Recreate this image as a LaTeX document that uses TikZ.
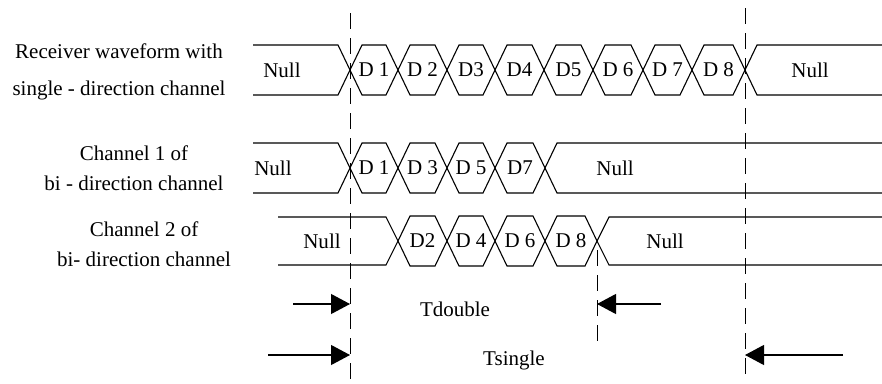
\documentclass[tikz,border=0pt]{standalone}
\usepackage{fontspec}
\setmainfont{Liberation Serif}
\usetikzlibrary{arrows.meta}
\tikzset{
  wave/.style={line width=1.1pt, line join=miter},
  lbl/.style={font=\fontsize{21}{25}\selectfont, inner sep=0pt},
  side/.style={font=\fontsize{21}{30}\selectfont, align=center, inner sep=0pt},
  guide/.style={line width=1pt, dash pattern=on 16pt off 9pt},
  span/.style={-{Triangle[length=19pt,width=20pt]}, line width=1.1pt},
}
% one row of data cells: mid line, row name, list of from/to/text
\newcommand{\datarow}[3]{%
  \foreach \a/\b/\t [count=\i] in {#3} {
    \draw[wave] (\a,#1) -- (\a+12,#1-25) -- (\b-12,#1-25) -- (\b,#1)
      -- (\b-12,#1+25) -- (\a+12,#1+25) -- cycle;
    \node[lbl] (#2d\i) at ({(\a+\b)/2},#1) {\t};
  }}

\begin{document}
\begin{tikzpicture}[x=1pt, y=-1pt]
  \useasboundingbox (0,0) rectangle (882,383);

  % row labels
  \node[side] (sgl) at (119,72) {Receiver waveform with\\[7pt]single - direction channel};
  \node[side] (ch1) at (134,168) {Channel 1 of\\bi - direction channel};
  \node[side] (ch2) at (144,244) {Channel 2 of\\bi- direction channel};

  % single-direction channel
  \draw[wave] (253,45) -- (338,45) -- (350,70) -- (338,95) -- (253,95);
  \datarow{70}{ra}{350/398/D 1, 398/447/D 2, 447/495/D3, 495/544/D4,
    544/593/D5, 593/643/D 6, 643/692/D 7, 692/745/D 8}
  \draw[wave] (882,45) -- (757,45) -- (745,70) -- (757,95) -- (882,95);
  \node[lbl] (ranl) at (282,70) {Null};
  \node[lbl] (ranr) at (810,70) {Null};

  % channel 1
  \draw[wave] (253,143) -- (338,143) -- (350,168) -- (338,193) -- (253,193);
  \datarow{168}{rb}{350/398/D 1, 398/447/D 3, 447/495/D 5, 495/545/D7}
  \draw[wave] (882,143) -- (557,143) -- (545,168) -- (557,193) -- (882,193);
  \node[lbl] (rbnl) at (273,168) {Null};
  \node[lbl] (rbnr) at (615,168) {Null};

  % channel 2
  \draw[wave] (278,217) -- (386,217) -- (398,241) -- (386,265) -- (278,265);
  \datarow{241}{rc}{398/447/D2, 447/495/D 4, 495/545/D 6, 545/597/D 8}
  \draw[wave] (882,217) -- (609,217) -- (597,241) -- (609,265) -- (882,265);
  \node[lbl] (rcnl) at (322,241) {Null};
  \node[lbl] (rcnr) at (665,241) {Null};

  % guide lines
  \coordinate (ga) at (350,13);  \coordinate (gb) at (350,380);
  \coordinate (gc) at (745,8);   \coordinate (gd) at (745,375);
  \coordinate (ge) at (597,250); \coordinate (gf) at (597,345);
  \draw[guide] (ga) -- (gb);
  \draw[guide] (gc) -- (gd);
  \draw[guide] (ge) -- (gf);

  % spans
  \coordinate (da) at (293,304); \coordinate (db) at (350,304);
  \coordinate (dc) at (661,304); \coordinate (dd) at (597,304);
  \coordinate (sa) at (268,355); \coordinate (sb) at (350,355);
  \coordinate (sc) at (843,355); \coordinate (sd) at (745,355);
  \draw[span] (da) -- (db);
  \draw[span] (dc) -- (dd);
  \draw[span] (sa) -- (sb);
  \draw[span] (sc) -- (sd);
  \node[lbl] (tdbl) at (455,309) {Tdouble};
  \node[lbl] (tsgl) at (514,360) {Tsingle};
\end{tikzpicture}
\end{document}
